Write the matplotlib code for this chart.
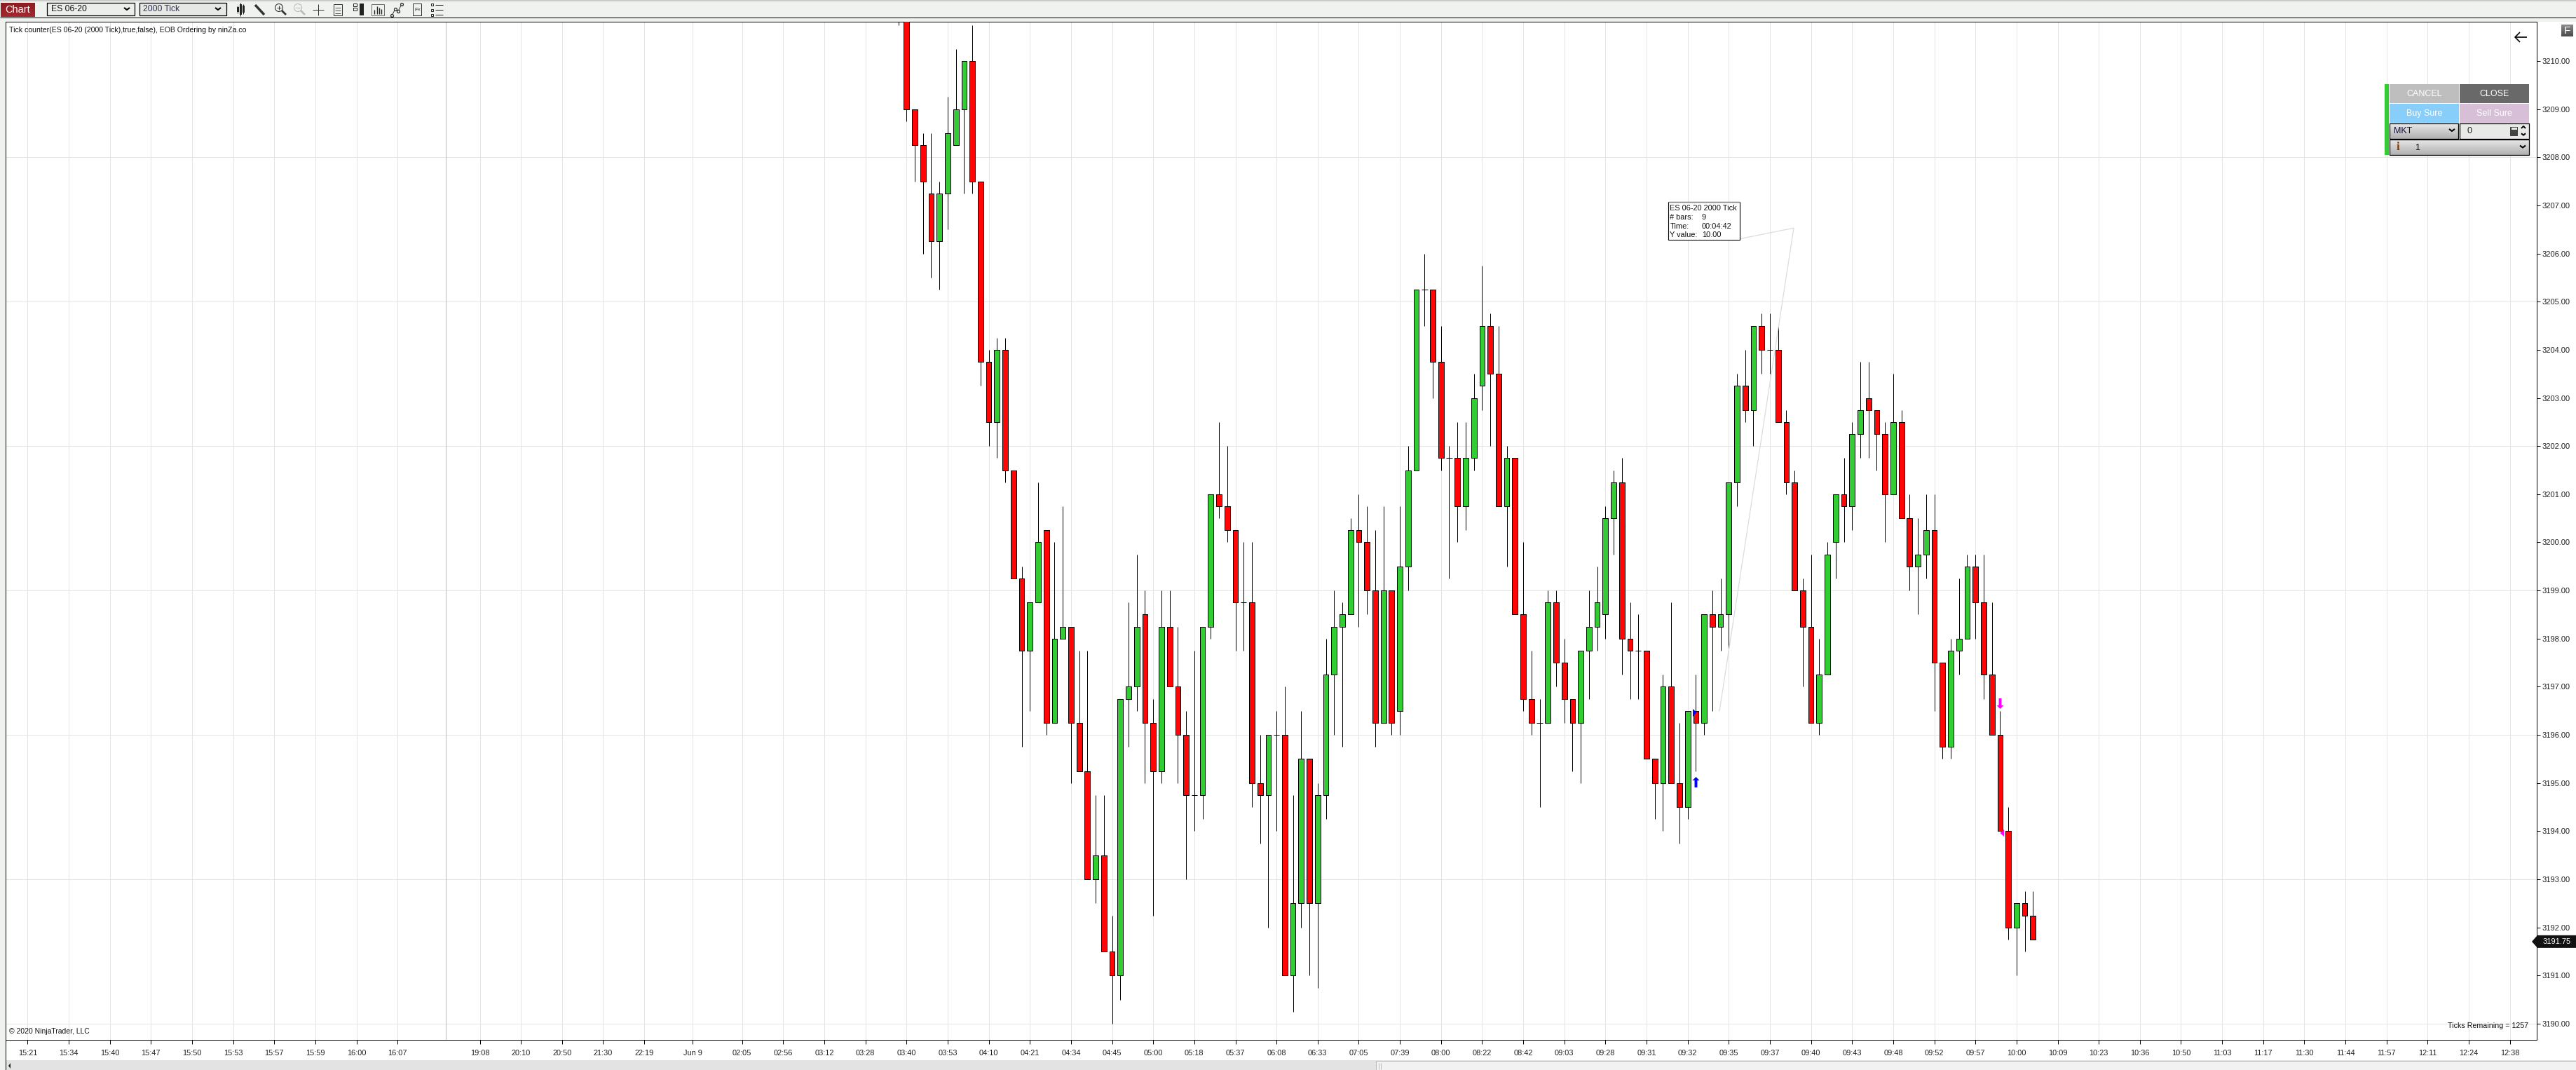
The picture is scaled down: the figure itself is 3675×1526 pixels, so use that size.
import numpy as np
import matplotlib
matplotlib.use("Agg")
import matplotlib.pyplot as plt
from matplotlib.patches import Rectangle, Polygon, Circle
from matplotlib.path import Path

plt.rcParams['font.family'] = ['Liberation Sans', 'DejaVu Sans']

# ---------- data (bar index 0 is the 03:40 bar) ----------
first_bar = -1
opens = [3212.5,3211,3209,3208.25,3207.25,3206.25,3207.25,3208.25,3209,3210,3207.5,3203.75,3202.5,3204,3201.5,3199.25,3197.75,3198.75,3200.25,3196.25,
 3198,3198.25,3196.25,3195.25,3193,3193.5,3191.5,3191,3196.75,3197,3198.5,3196.25,3195.25,3198.25,3197,3196,3194.75,3194.75,3198.25,3201,
 3200.75,3200.25,3198.75,3198.75,3195,3194.75,3196,3196,3191,3192.5,3195.5,3192.5,3194.75,3197.25,3198.25,3198.5,3200.25,3200,3199,3196.25,
 3199,3196.5,3199.5,3201.5,3205.25,3205.25,3203.75,3201.75,3201.75,3200.75,3201.75,3203.25,3204.5,3203.5,3200.75,3201.75,3198.5,3196.75,3196.25,3196.25,
 3198.75,3197.5,3196.75,3196.25,3197.75,3198.25,3198.5,3200.5,3201.25,3198,3197.75,3197.75,3195.5,3195,3197,3195,3194.5,3196.5,3196.25,3198.5,
 3198.25,3198.5,3201.25,3203.25,3202.75,3204.5,3204,3204,3202.5,3201.25,3199,3198.25,3196.25,3197.25,3200,3201,3200.75,3202.25,3203,3202.75,
 3202.25,3201,3202.5,3200.5,3199.5,3199.75,3200.25,3197.5,3195.75,3197.75,3198,3199.5,3198.75,3197.25,3196,3194,3192,3192.5,3192.25]
highs = [3212.5,3211,3209,3208.5,3208.5,3207.5,3209.25,3210.25,3210,3210.75,3207.5,3204,3204.25,3204.25,3201.5,3199.5,3198.75,3201.25,3200.25,3200,
 3200.75,3198.25,3197.75,3197.75,3194.75,3194.75,3192.25,3196.75,3198.75,3199.75,3199,3196.75,3199,3199,3198.25,3196.5,3197.75,3198.25,3201,3202.5,
 3202,3200.25,3200,3200,3196,3196,3196.5,3197,3194.75,3196.5,3195.5,3195,3198,3199,3198.75,3200.5,3201,3200.75,3200.25,3200.75,
 3199,3200.75,3202,3205.25,3206,3205.25,3204.5,3202,3202.5,3202.5,3203.5,3205.75,3204.75,3204.5,3202,3201.75,3200,3197.75,3196.75,3199,
 3199,3198,3196.75,3197.75,3199,3199.5,3200.75,3201.5,3201.75,3198.75,3198.5,3197.75,3195.5,3197.25,3198.75,3196.25,3196.5,3197.25,3198.5,3199,
 3199.25,3201.25,3203.5,3204,3204.5,3204.75,3204.75,3204.5,3202.75,3201.5,3199.25,3199.75,3198,3200,3201,3201.75,3202.5,3203.75,3203.75,3202.75,
 3202.5,3203.5,3202.75,3201,3200.5,3201,3201,3197.5,3198,3199.25,3199.75,3199.75,3199.75,3198.75,3196.5,3194.5,3192.5,3192.75,3192.75]
lows = [3210.75,3208.75,3207.5,3206,3205.5,3205.25,3206.5,3208.25,3207.25,3207.25,3203.25,3202,3201.75,3201.25,3199.25,3195.75,3196.5,3198.75,3196,3196.25,
 3198,3195,3195.25,3193,3192.5,3191.5,3190,3190.5,3195.75,3196.5,3195,3192.25,3195,3197,3195,3193,3194,3194.25,3198,3200.5,
 3200,3197.75,3197.75,3194.5,3193.75,3192,3194,3191,3190.25,3192,3191,3190.75,3194.25,3196,3195.75,3198.5,3198.25,3198.5,3195.75,3196.25,
 3196,3196,3199,3201.5,3204.5,3203,3201.5,3199.25,3200,3200.25,3201.5,3202.75,3202,3200.75,3199.5,3198.5,3196.5,3196,3194.5,3196.25,
 3197,3196.25,3195.25,3195,3196.75,3197.75,3198,3199.75,3197.25,3196.75,3196.75,3195.5,3194.25,3194,3195,3193.75,3194.25,3195.25,3196,3196.5,
 3197.75,3197.75,3200.75,3202.5,3202,3203.5,3203.5,3202.5,3201,3199,3197,3196.25,3196,3197.25,3199.25,3200,3200.25,3201.75,3201.75,3201.5,
 3200,3201,3200.5,3199,3198.5,3199.25,3196.5,3195.5,3195.5,3197.25,3198,3198,3196.75,3196,3194,3191.75,3191,3191.5,3191.75]
closes = [3211,3209,3208.25,3207.5,3206.25,3207.25,3208.5,3209,3210,3207.5,3203.75,3202.5,3204,3201.5,3199.25,3197.75,3198.75,3200,3196.25,3198,
 3198.25,3196.25,3195.25,3193,3193.5,3191.5,3191,3196.75,3197,3198.25,3196.25,3195.25,3198.25,3197,3196,3194.75,3194.75,3198.25,3201,3200.75,
 3200.25,3198.75,3198.75,3195,3194.75,3196,3196,3191,3192.5,3195.5,3192.5,3194.75,3197.25,3198.25,3198.5,3200.25,3200,3199,3196.25,3199,
 3196.25,3199.5,3201.5,3205.25,3205.25,3203.75,3201.75,3201.75,3200.75,3201.75,3203,3204.5,3203.5,3200.75,3201.75,3198.5,3196.75,3196.25,3196.25,3198.75,
 3197.5,3196.75,3196.25,3197.75,3198.25,3198.75,3200.5,3201.25,3198,3197.75,3197.75,3195.5,3195,3197,3195,3194.5,3196.5,3196.25,3198.5,3198.25,
 3198.5,3201.25,3203.25,3202.75,3204.5,3204,3204,3202.5,3201.25,3199,3198.25,3196.25,3197.25,3199.75,3201,3200.75,3202.25,3202.75,3202.75,3202.25,
 3201,3202.5,3200.5,3199.5,3199.75,3200.25,3197.5,3195.75,3197.75,3198,3199.5,3198.75,3197.25,3196,3194,3192,3192.5,3192.25,3191.75]

price_ticks = list(range(3190, 3211))
price_grid = [3190, 3193, 3196, 3199, 3202, 3205, 3208]
time_labels = ['15:21','15:34','15:40','15:47','15:50','15:53','15:57','15:59','16:00','16:07',
 '19:08','20:10','20:50','21:30','22:19','Jun 9','02:05','02:56','03:12','03:28',
 '03:40','03:53','04:10','04:21','04:34','04:45','05:00','05:18','05:37','06:08','06:33','07:05','07:39','08:00','08:22','08:42',
 '09:03','09:28','09:31','09:32','09:35','09:37','09:40','09:43','09:48','09:52','09:57','10:00','10:09','10:23','10:36','10:50',
 '11:03','11:17','11:30','11:44','11:57','12:11','12:24','12:38']
time_ticks = [-106.9,-101.9,-96.9,-91.9,-86.9,-81.9,-76.9,-71.9,-66.9,-61.9,
 -51.9,-46.9,-41.9,-36.9,-31.9,-26,-20,-15,-10,-5] + [5*k for k in range(40)]
session_break = -56
ruler_x = [101.2, 107.9, 98.875]
ruler_y = [3206.3, 3206.53, 3196.5]
long_signal = (96, 3195.03)
short_signal = (133, 3196.65)
last_price = 3191.75

# ---------- figure ----------
W, H = 3675, 1526
fig = plt.figure(figsize=(W/100, H/100), dpi=100, facecolor='#F0F2F0')
PX = 11.73; X0 = 1293.3; PY = 68.65; Y0 = 224.3
L, R, T, B = 8, 3619, 31, 1483
bgp = fig.add_axes([0, 0, 1, 1], zorder=0); bgp.set_xlim(0, W); bgp.set_ylim(H, 0); bgp.axis('off')
bgp.add_patch(Rectangle((8, 31), W-8, 1512-31, fc='white', ec='none'))

ax = fig.add_axes([L/W, 1-B/H, (R-L)/W, (B-T)/H], zorder=1)
ax.patch.set_alpha(0)
ax.set_xlim((L-X0)/PX, (R-X0)/PX)
ax.set_ylim(3208-(B-Y0)/PY, 3208-(T-Y0)/PY)
for s in ax.spines.values():
    s.set_linewidth(0.72); s.set_color('black')
GRID = '#E4E4E4'
ax.hlines(price_grid, *ax.get_xlim(), color=GRID, lw=0.72, zorder=1)
ax.vlines(time_ticks, *ax.get_ylim(), color=GRID, lw=0.72, zorder=1)
ax.vlines([session_break], *ax.get_ylim(), color='#BDBDBD', lw=0.72, zorder=1)
ax.set_xticks(time_ticks); ax.set_xticklabels(time_labels)
ax.set_yticks(price_ticks); ax.set_yticklabels([f'{p:.2f}' for p in price_ticks])
ax.yaxis.tick_right()
ax.tick_params(axis='y', length=3.6, width=0.72, pad=2.2, labelsize=8.0, labelcolor='#222222')
ax.tick_params(axis='x', length=4.0, width=0.72, pad=6.0, labelsize=7.9, labelcolor='#222222')

idx = np.arange(first_bar, first_bar+len(opens))
o, h, l, c = map(np.array, (opens, highs, lows, closes))
ax.vlines(idx, l, h, color='black', lw=0.72, zorder=2)
up = c > o; down = c < o; doji = c == o
BW = 0.66
ax.bar(idx[up], (c-o)[up], bottom=o[up], width=BW, color='#32CD32', edgecolor='black', lw=0.72, zorder=3)
ax.bar(idx[down], (o-c)[down], bottom=c[down], width=BW, color='#FF0505', edgecolor='black', lw=0.72, zorder=3)
ax.hlines(c[doji], idx[doji]-BW/2-0.03, idx[doji]+BW/2+0.03, color='black', lw=0.72, zorder=3)
ax.plot(ruler_x, ruler_y, color='#DCDCDC', lw=0.9, zorder=4)

arrow_up = Path([(-.13,-.5),(.13,-.5),(.13,.17),(.33,.17),(0,.5),(-.33,.17),(-.13,.17),(-.13,-.5)], closed=True)
arrow_dn = Path([(-.13,.5),(.13,.5),(.13,-.17),(.33,-.17),(0,-.5),(-.33,-.17),(-.13,-.17),(-.13,.5)], closed=True)
ax.plot(*long_signal, marker=arrow_up, ms=10.8, color='#0000FF', mew=0, zorder=5)
ax.plot(*short_signal, marker=arrow_dn, ms=10.8, color='#FF00FF', mew=0, zorder=5)

# ---------- chrome, in pixel coordinates ----------
ov = fig.add_axes([0, 0, 1, 1], zorder=2); ov.patch.set_alpha(0); ov.axis('off')
def grad(x0, y0, x1, y1, top, bot):
    cm = matplotlib.colors.LinearSegmentedColormap.from_list('g', [top, bot])
    ov.imshow(np.linspace(0, 1, 32)[:, None], extent=(x0, x1, y1, y0), cmap=cm, aspect='auto', zorder=2, interpolation='bilinear')
def rect(x0, y0, x1, y1, fc='none', ec='none', lw=0.72, z=3):
    ov.add_patch(Rectangle((x0, y0), x1-x0, y1-y0, fc=fc, ec=ec, lw=lw, zorder=z))
def line(xs, ys, c='black', lw=0.72, z=4):
    ov.plot(xs, ys, color=c, lw=lw, zorder=z, solid_capstyle='butt')
def txt(x, y, s, size=7.7, c='#111111', ha='left', **kw):
    ov.text(x, y, s, fontsize=size, color=c, ha=ha, va='center', zorder=6, **kw)
def chevron(x, y, w=4, h=3, c='black', lw=1.5):
    line([x-w, x, x+w], [y-h/2, y+h/2, y-h/2], c=c, lw=lw, z=6)

# toolbar
line([0, W], [1, 1], c='#C4C4C4', lw=1.2)
line([0, W], [24.5, 24.5], c='black')
line([7.5, 7.5], [1483, 1526], c='black')
grad(1, 4, 50, 24, '#8C1C22', '#A3282E')
txt(25.5, 13.5, 'Chart', size=10.5, c='white', ha='center')
rect(67, 3.5, 192, 22, fc='#ECEEEC', ec='black', lw=0.9)
rect(198.5, 3.5, 322.5, 22, fc='#E6E8E6', ec='black', lw=0.9)
txt(73, 13, 'ES 06-20', size=8.7, c='#101010')
txt(204, 13, '2000 Tick', size=8.7, c='#303050')
chevron(181, 12.5); chevron(311, 12.5)
# toolbar icons
for x_, y0_, y1_ in [(339,8,19),(343,4,23),(347,6,20)]:
    rect(x_-1.5, y0_+2, x_+1.5, y1_-2, fc='#222222')
    line([x_, x_], [y0_, y1_], c='#222222')
line([364, 377], [7, 21], c='#333333', lw=2.5)
for xc, col in [(398, '#333333'), (425, '#BBBBBB')]:
    ov.add_patch(Circle((xc, 11), 5.5, fc='none', ec=col, lw=0.8, zorder=4))
    line([xc+4, xc+10], [15, 21], c=col, lw=2)
    line([xc-3, xc+3], [11, 11], c=col)
line([398, 398], [8, 14], c='#333333')
line([446, 462], [14, 14], c='#333333'); line([454, 454], [6, 22], c='#333333')
rect(476, 6, 488, 22, ec='#333333')
for yy in (11, 15, 19): line([478, 486], [yy, yy], c='#333333', lw=0.6)
rect(504, 5, 509, 9, ec='#222222'); rect(504, 11, 509, 15, ec='#222222')
rect(513, 5, 519, 22, fc='#222222')
rect(530, 6, 548, 22, ec='#333333', lw=0.5)
for xx, top in [(534, 14), (538, 9), (541, 11), (544, 13)]:
    line([xx, xx], [top, 20], c='#222222', lw=1)
ov.plot([559, 564, 568, 573], [22, 13, 16, 6], '-o', color='#333333', lw=0.7, ms=2.8, mfc='white', zorder=4)
rect(589, 5, 601, 22, ec='#333333'); txt(591, 14, 'F\u00d7', size=5.5, c='#333333')
for yy in (6.5, 14, 21):
    rect(615, yy-1.5, 618, yy+1.5, ec='#222222', lw=0.7); line([621, 632], [yy, yy], c='#222222')

# indicator labels
txt(13, 43.5, 'Tick counter(ES 06-20 (2000 Tick),true,false), EOB Ordering by ninZa.co', size=7.55, c='#111111')
txt(13, 1470.5, '\u00a9 2020 NinjaTrader, LLC', size=7.5, c='#111111')
txt(3607, 1462.5, 'Ticks Remaining = 1257', size=7.7, c='#111111', ha='right')

# back arrow
line([3588, 3605], [53, 53], lw=1.2, z=6)
line([3595, 3588, 3595], [46, 53, 60], lw=1.2, z=6)

# F button
grad(3654, 35, 3671, 52, '#8A8A8A', '#4A4A4A')
txt(3662.5, 43.5, 'F', size=11, c='white', ha='center')

# order panel
rect(3402, 120, 3408, 221, fc='#32CD32')
rect(3409, 120, 3508, 147, fc='#BEBEBE'); txt(3458.5, 134, 'CANCEL', size=9, c='white', ha='center')
rect(3509, 120, 3608, 147, fc='#696969'); txt(3558.5, 134, 'CLOSE', size=9, c='white', ha='center')
rect(3409, 148, 3508, 175, fc='#87CEFA'); txt(3458.5, 162, 'Buy Sure', size=9, c='white', ha='center')
rect(3509, 148, 3608, 175, fc='#D8BFD8'); txt(3558.5, 162, 'Sell Sure', size=9, c='white', ha='center')
grad(3409, 176, 3507, 198, '#E8E8E8', '#B0B0B0'); rect(3409, 176, 3507, 198, ec='black', lw=0.9)
txt(3415, 187, 'MKT', size=9, c='#101040'); chevron(3498, 185.5)
rect(3509, 176, 3608, 198, fc='#E8EAE8', ec='black', lw=0.9)
txt(3519, 187, '0', size=9, c='#202020')
rect(3581, 181, 3592, 194, fc='#444444', ec='none')
rect(3582.5, 182, 3590.5, 185, fc='#E8EAE8')
chevron(3600, 191.5, w=3, h=2.5); line([3597, 3600, 3603], [183, 180, 183], lw=1.4, z=6)
grad(3409, 199, 3608, 221, '#E8E8E8', '#B0B0B0'); rect(3409, 199, 3608, 221, ec='black', lw=0.9)
ov.text(3421, 210, 'i', fontsize=12, color='#7A3A00', family='Liberation Serif', weight='bold', ha='center', va='center', zorder=6)
txt(3445, 210.5, '1', size=9, c='#101010'); chevron(3599, 209)

# tooltip of the ruler
rect(2379.5, 287.5, 2481.5, 341.5, fc='white', ec='black', lw=0.8, z=5)
line([2379.5, 2481.5], [288, 288], c='#888888', lw=1, z=5.5)
rows = [('ES 06-20 2000 Tick', ''), ('# bars:', '9'), ('Time:', '00:04:42'), ('Y value:', '10.00')]
for (a, b), yy in zip(rows, (297, 310, 323, 335.3)):
    txt(2382.5, yy, a, size=7.9); txt(2428, yy, b, size=7.9)

# small signal triangles
ov.add_patch(Polygon([(2415, 1011), (2420.5, 1016), (2415, 1022)], fc='#0000FF', ec='none', zorder=5))
ov.add_patch(Polygon([(2859, 1183), (2853.5, 1188), (2859, 1193)], fc='#FF00FF', ec='none', zorder=5))

# last price flag
yl = Y0 + (3208-last_price)*PY
ov.add_patch(Polygon([(3612, yl+3), (3620, yl-6), (3675, yl-6), (3675, yl+12), (3620, yl+12)], fc='#111111', ec='none', zorder=5))
txt(3628, yl+3, f'{last_price:.2f}', size=8.0, c='white')

# scrollbar
rect(8, 1512, W, 1526, fc='#E3E3E3', z=2)
rect(1963, 1513, W, 1526, fc='#F2F2F2', ec='#BBBBBB', z=3)
line([1967, 1967], [1516, 1525], c='#BBBBBB', lw=0.7); line([1970, 1970], [1516, 1525], c='#BBBBBB', lw=0.7)
ov.add_patch(Polygon([(12, 1520), (15, 1516), (15, 1524)], fc='#222222', ec='none', zorder=4))

ov.set_xlim(0, W); ov.set_ylim(H, 0)
fig.savefig('out.png', dpi=100, facecolor=fig.get_facecolor())
